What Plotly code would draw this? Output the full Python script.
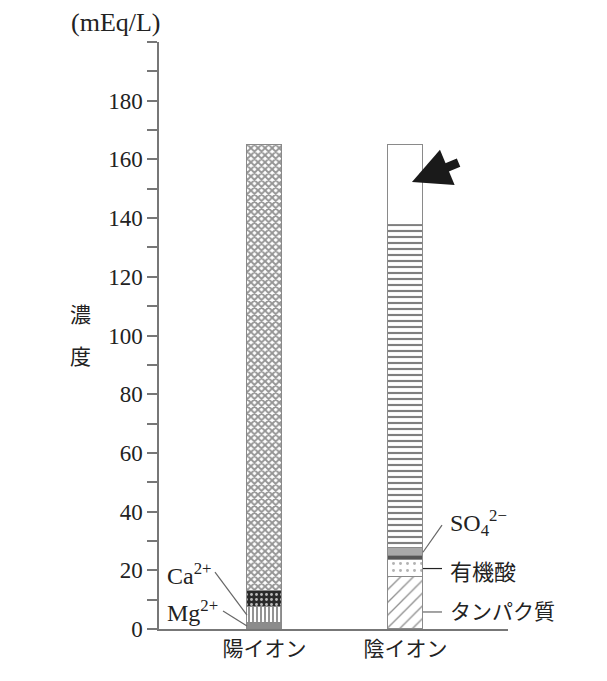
import plotly.graph_objects as go

categories = ["陽イオン", "陰イオン"]
cation_names = ["Mg2+", "Ca2+", "Na+", "K+"]
cation_values = [2.0, 5.5, 5.5, 152.0]
anion_names = ["タンパク質", "有機酸", "HPO4", "SO4 2-", "リン酸", "その他"]
anion_values = [17.7, 5.8, 1.3, 2.7, 110.0, 27.5]
ytick_vals = list(range(0, 201, 10))
ytick_text = [str(v) if v % 20 == 0 and v < 200 else "" for v in ytick_vals]

SERIF = "Liberation Serif, Times New Roman, serif"
CJK = "Noto Sans CJK JP, sans-serif"
EDGE = "#8a8a8a"
BW = 0.248

cation_styles = [
    dict(color="#8c8c8c", pattern=dict(shape="")),
    dict(color="white", pattern=dict(shape="|", fgcolor="#111", size=4, solidity=0.45)),
    dict(color="#2a2a2a", pattern=dict(shape=".", fgcolor="#bbbbbb", size=5, solidity=0.25, fillmode="replace", bgcolor="#2a2a2a")),
    dict(color="white", pattern=dict(shape="x", fgcolor="#2a2a2a", size=5, solidity=0.62)),
]
anion_styles = [
    dict(color="white", pattern=dict(shape="/", fgcolor="#222", size=9, solidity=0.15)),
    dict(color="white", pattern=dict(shape=".", fgcolor="#666", size=7, solidity=0.14)),
    dict(color="#555555", pattern=dict(shape="")),
    dict(color="#a8a8a8", pattern=dict(shape="")),
    dict(color="white", pattern=dict(shape="-", fgcolor="#000", size=6, solidity=0.36)),
    dict(color="white", pattern=dict(shape="")),
]

fig = go.Figure()
for name, val, st in zip(cation_names, cation_values, cation_styles):
    fig.add_trace(go.Bar(x=[0], y=[val], name=name, width=BW, showlegend=False,
                         marker=dict(color=st["color"], pattern=st["pattern"],
                                     line=dict(color=EDGE, width=1.5))))
for name, val, st in zip(anion_names, anion_values, anion_styles):
    fig.add_trace(go.Bar(x=[1], y=[val], name=name, width=BW, showlegend=False,
                         marker=dict(color=st["color"], pattern=st["pattern"],
                                     line=dict(color=EDGE, width=1.5))))

def mids(vals):
    out, c = [], 0
    for v in vals:
        out.append(c + v / 2)
        c += v
    return out

cm = mids(cation_values)
am = mids(anion_values)
left_edge = 0 - BW / 2
right_edge = 1 + BW / 2

shapes = []
line_style = dict(color="#666", width=1.2)
shapes.append(dict(type="line", xref="x", yref="y", x0=-0.351, y0=19.4, x1=left_edge, y1=cm[1], line=line_style))
shapes.append(dict(type="line", xref="x", yref="y", x0=-0.294, y0=6.1, x1=left_edge, y1=cm[0], line=line_style))
shapes.append(dict(type="line", xref="x", yref="y", x0=1.259, y0=35.4, x1=right_edge, y1=am[3], line=line_style))
shapes.append(dict(type="line", xref="x", yref="y", x0=right_edge, y0=am[1], x1=1.259, y1=am[1], line=dict(color="#222", width=1.2)))
shapes.append(dict(type="line", xref="x", yref="y", x0=right_edge, y0=5.8, x1=1.259, y1=5.8, line=line_style))

annotations = [
    dict(text="Ca<sup>2+</sup>", x=-0.706, y=18.6, xref="x", yref="y", xanchor="left", yanchor="middle",
         showarrow=False, font=dict(family=SERIF, size=24, color="#222")),
    dict(text="Mg<sup>2+</sup>", x=-0.706, y=6.0, xref="x", yref="y", xanchor="left", yanchor="middle",
         showarrow=False, font=dict(family=SERIF, size=24, color="#222")),
    dict(text="SO<sub>4</sub><sup>2−</sup>", x=1.301, y=36, xref="x", yref="y", xanchor="left", yanchor="middle",
         showarrow=False, font=dict(family=SERIF, size=24, color="#222")),
    dict(text="有機酸", x=1.301, y=20.1, xref="x", yref="y", xanchor="left", yanchor="middle",
         showarrow=False, font=dict(family=CJK, size=22, color="#222")),
    dict(text="タンパク質", x=1.301, y=6.5, xref="x", yref="y", xanchor="left", yanchor="middle",
         showarrow=False, font=dict(family=CJK, size=21, color="#222")),
    dict(text="(mEq/L)", x=-0.123, y=1.034, xref="paper", yref="paper", xanchor="center", yanchor="middle",
         showarrow=False, font=dict(family=SERIF, size=26, color="#222")),
    dict(text="濃", x=-0.226, y=107.7, xref="paper", yref="y", xanchor="center", yanchor="middle",
         showarrow=False, font=dict(family=CJK, size=21, color="#222")),
    dict(text="度", x=-0.226, y=93.4, xref="paper", yref="y", xanchor="center", yanchor="middle",
         showarrow=False, font=dict(family=CJK, size=21, color="#222")),
    dict(text="", x=1.046, y=152.3, ax=1.387, ay=159.1, xref="x", yref="y", axref="x", ayref="y",
         showarrow=True, arrowhead=2, arrowwidth=9, arrowsize=0.85, arrowcolor="#1a1a1a", standoff=0),
]

fig.update_layout(
    barmode="stack",
    width=591, height=665,
    margin=dict(l=151, r=91, t=34, b=44),
    paper_bgcolor="white", plot_bgcolor="white",
    bargap=0,
    shapes=shapes,
    annotations=annotations,
    xaxis=dict(range=[-0.748, 1.727], tickvals=[0, 1], ticktext=categories,
               showline=True, linecolor="#777", linewidth=1.5, ticks="", showgrid=False, zeroline=False,
               tickfont=dict(family=CJK, size=21, color="#222"), fixedrange=True),
    yaxis=dict(range=[0, 200], tickvals=ytick_vals, ticktext=ytick_text,
               showline=True, linecolor="#777", linewidth=1.5, ticks="outside", ticklen=10,
               tickcolor="#777", tickwidth=1.5, showgrid=False, zeroline=False,
               tickfont=dict(family=SERIF, size=23, color="#222"), fixedrange=True),
)

fig.write_html("out.html")
